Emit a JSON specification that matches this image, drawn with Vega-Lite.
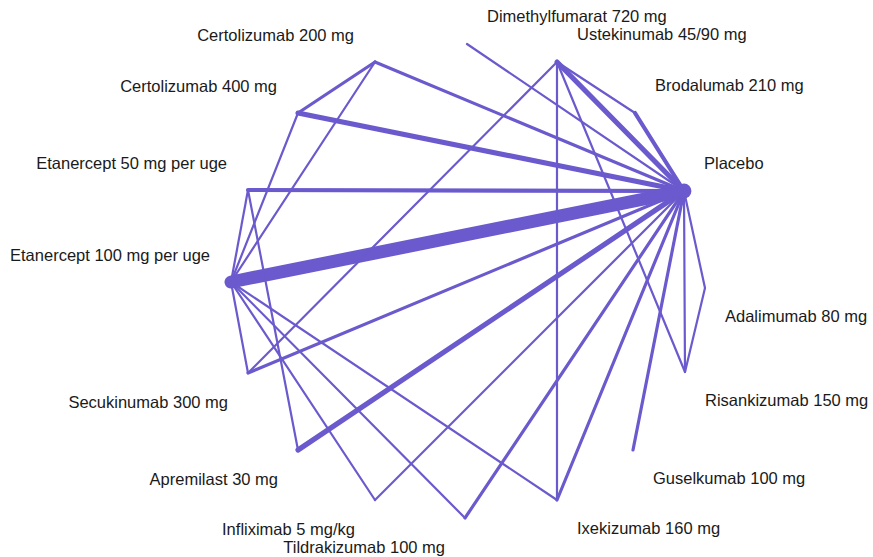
{
  "$schema": "https://vega.github.io/schema/vega-lite/v6.json",
  "width": 873,
  "height": 557,
  "padding": 0,
  "autosize": {"type": "fit", "contains": "padding"},
  "background": "white",
  "view": {"stroke": null},
  "config": {"axis": {"disable": true}},
  "datasets": {
    "nodes": [
      {"name": "Dimethylfumarat 720 mg", "x": 467, "y": 44, "weight": 0},
      {"name": "Ustekinumab 45/90 mg", "x": 557, "y": 62, "weight": 0},
      {"name": "Brodalumab 210 mg", "x": 635, "y": 113, "weight": 0},
      {"name": "Placebo", "x": 684, "y": 191, "weight": 200},
      {"name": "Adalimumab 80 mg", "x": 705, "y": 288, "weight": 0},
      {"name": "Risankizumab 150 mg", "x": 685, "y": 372, "weight": 0},
      {"name": "Guselkumab 100 mg", "x": 633, "y": 450, "weight": 0},
      {"name": "Ixekizumab 160 mg", "x": 557, "y": 500, "weight": 0},
      {"name": "Tildrakizumab 100 mg", "x": 465, "y": 518, "weight": 0},
      {"name": "Infliximab 5 mg/kg", "x": 375, "y": 500, "weight": 0},
      {"name": "Apremilast 30 mg", "x": 298, "y": 450, "weight": 0},
      {"name": "Secukinumab 300 mg", "x": 248, "y": 373, "weight": 0},
      {"name": "Etanercept 100 mg per uge", "x": 231, "y": 282, "weight": 110},
      {"name": "Etanercept 50 mg per uge", "x": 248, "y": 190, "weight": 0},
      {"name": "Certolizumab 400 mg", "x": 298, "y": 113, "weight": 0},
      {"name": "Certolizumab 200 mg", "x": 375, "y": 62, "weight": 0}
    ],
    "edges": [
      {"from": "Etanercept 100 mg per uge", "to": "Placebo", "studies": 12},
      {"from": "Certolizumab 400 mg", "to": "Placebo", "studies": 4},
      {"from": "Ustekinumab 45/90 mg", "to": "Placebo", "studies": 4},
      {"from": "Apremilast 30 mg", "to": "Placebo", "studies": 4},
      {"from": "Etanercept 50 mg per uge", "to": "Placebo", "studies": 3},
      {"from": "Brodalumab 210 mg", "to": "Placebo", "studies": 3},
      {"from": "Certolizumab 200 mg", "to": "Placebo", "studies": 2},
      {"from": "Guselkumab 100 mg", "to": "Placebo", "studies": 2},
      {"from": "Secukinumab 300 mg", "to": "Placebo", "studies": 2},
      {"from": "Ixekizumab 160 mg", "to": "Placebo", "studies": 2},
      {"from": "Tildrakizumab 100 mg", "to": "Placebo", "studies": 2},
      {"from": "Infliximab 5 mg/kg", "to": "Placebo", "studies": 1},
      {"from": "Risankizumab 150 mg", "to": "Placebo", "studies": 1},
      {"from": "Adalimumab 80 mg", "to": "Placebo", "studies": 1},
      {"from": "Dimethylfumarat 720 mg", "to": "Placebo", "studies": 1},
      {"from": "Certolizumab 200 mg", "to": "Certolizumab 400 mg", "studies": 2},
      {"from": "Certolizumab 200 mg", "to": "Etanercept 100 mg per uge", "studies": 1},
      {"from": "Certolizumab 400 mg", "to": "Etanercept 100 mg per uge", "studies": 1},
      {"from": "Etanercept 50 mg per uge", "to": "Etanercept 100 mg per uge", "studies": 1},
      {"from": "Etanercept 50 mg per uge", "to": "Apremilast 30 mg", "studies": 1},
      {"from": "Etanercept 100 mg per uge", "to": "Secukinumab 300 mg", "studies": 1},
      {"from": "Etanercept 100 mg per uge", "to": "Infliximab 5 mg/kg", "studies": 1},
      {"from": "Etanercept 100 mg per uge", "to": "Tildrakizumab 100 mg", "studies": 1},
      {"from": "Etanercept 100 mg per uge", "to": "Ixekizumab 160 mg", "studies": 1},
      {"from": "Ustekinumab 45/90 mg", "to": "Secukinumab 300 mg", "studies": 1},
      {"from": "Ustekinumab 45/90 mg", "to": "Ixekizumab 160 mg", "studies": 1},
      {"from": "Ustekinumab 45/90 mg", "to": "Risankizumab 150 mg", "studies": 1},
      {"from": "Ustekinumab 45/90 mg", "to": "Brodalumab 210 mg", "studies": 1},
      {"from": "Adalimumab 80 mg", "to": "Risankizumab 150 mg", "studies": 1}
    ]
  },
  "layer": [
    {
      "data": {"name": "edges"},
      "transform": [
        {"lookup": "from", "from": {"data": {"name": "nodes"}, "key": "name", "fields": ["x", "y"]}, "as": ["x1", "y1"]},
        {"lookup": "to", "from": {"data": {"name": "nodes"}, "key": "name", "fields": ["x", "y"]}, "as": ["x2", "y2"]}
      ],
      "mark": {"type": "rule", "color": "#6A5ACD", "strokeCap": "round"},
      "encoding": {
        "x": {"field": "x1", "type": "quantitative", "scale": {"domain": [0, 873], "nice": false, "zero": false}, "axis": null},
        "y": {"field": "y1", "type": "quantitative", "scale": {"domain": [0, 557], "nice": false, "zero": false, "reverse": true}, "axis": null},
        "x2": {"field": "x2"},
        "y2": {"field": "y2"},
        "strokeWidth": {"field": "studies", "type": "quantitative", "scale": {"domain": [1, 12], "range": [2.2, 13], "zero": false}, "legend": null}
      }
    },
    {
      "data": {"name": "nodes"},
      "mark": {"type": "point", "filled": true, "opacity": 1, "color": "#6A5ACD", "strokeWidth": 0},
      "encoding": {
        "x": {"field": "x", "type": "quantitative"},
        "y": {"field": "y", "type": "quantitative"},
        "size": {"field": "weight", "type": "quantitative", "scale": {"domain": [0, 200], "range": [0, 220]}, "legend": null}
      }
    },
    {
      "data": {"name": "nodes"},
      "transform": [{"filter": "datum.x > 466 && datum.y < 286"}],
      "mark": {"type": "text", "align": "left", "baseline": "middle", "dx": 20, "dy": -27, "font": "Liberation Sans", "fontSize": 16.5, "color": "#1a1a1a"},
      "encoding": {"x": {"field": "x", "type": "quantitative"}, "y": {"field": "y", "type": "quantitative"}, "text": {"field": "name"}}
    },
    {
      "data": {"name": "nodes"},
      "transform": [{"filter": "datum.x > 466 && datum.y >= 286"}],
      "mark": {"type": "text", "align": "left", "baseline": "middle", "dx": 20, "dy": 29, "font": "Liberation Sans", "fontSize": 16.5, "color": "#1a1a1a"},
      "encoding": {"x": {"field": "x", "type": "quantitative"}, "y": {"field": "y", "type": "quantitative"}, "text": {"field": "name"}}
    },
    {
      "data": {"name": "nodes"},
      "transform": [{"filter": "datum.x <= 466 && datum.y < 286"}],
      "mark": {"type": "text", "align": "right", "baseline": "middle", "dx": -21, "dy": -26, "font": "Liberation Sans", "fontSize": 16.5, "color": "#1a1a1a"},
      "encoding": {"x": {"field": "x", "type": "quantitative"}, "y": {"field": "y", "type": "quantitative"}, "text": {"field": "name"}}
    },
    {
      "data": {"name": "nodes"},
      "transform": [{"filter": "datum.x <= 466 && datum.y >= 286"}],
      "mark": {"type": "text", "align": "right", "baseline": "middle", "dx": -20, "dy": 30, "font": "Liberation Sans", "fontSize": 16.5, "color": "#1a1a1a"},
      "encoding": {"x": {"field": "x", "type": "quantitative"}, "y": {"field": "y", "type": "quantitative"}, "text": {"field": "name"}}
    }
  ]
}
